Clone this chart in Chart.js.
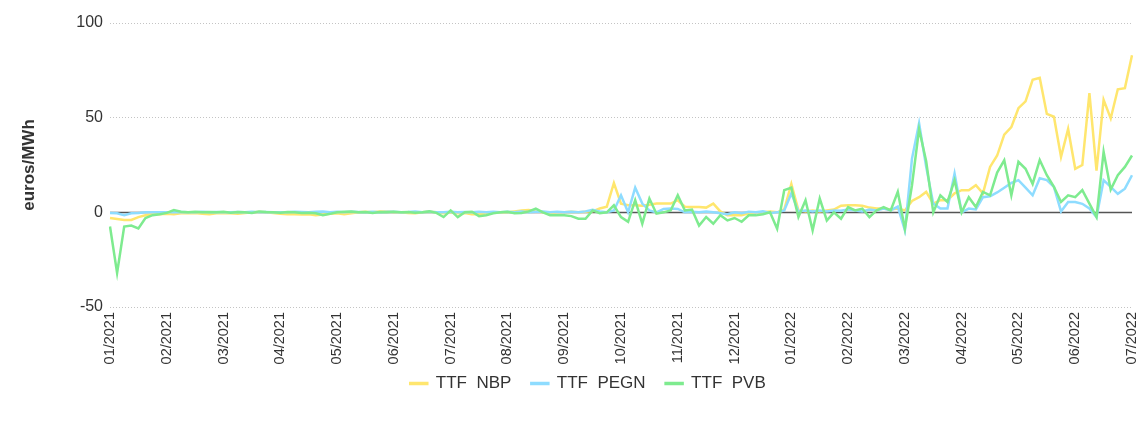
<!DOCTYPE html>
<html>
<head>
<meta charset="utf-8">
<script src="https://cdn.jsdelivr.net/npm/chart.js@4/dist/chart.umd.min.js"></script>
<style>
  html, body { margin: 0; padding: 0; background: #fff; }
  #wrap { width: 1138px; height: 423px; position: relative; }
</style>
</head>
<body>
<div id="wrap"><canvas id="spreadChart"></canvas></div>
<script>
'use strict';

// month tick labels (one every PER_MONTH points)
const MONTHS = ['01/2021', '02/2021', '03/2021', '04/2021', '05/2021', '06/2021', '07/2021', '08/2021', '09/2021',
  '10/2021', '11/2021', '12/2021', '01/2022', '02/2022', '03/2022', '04/2022', '05/2022', '06/2022', '07/2022'];
const PER_MONTH = 8;

// spreads, euros/MWh (8 readings per month, last one = 07/2022)
const TTF_NBP = [
  -3, -3.5, -4, -4, -2.5, -1.5, -1, -1,
  -0.8, -1, -0.5, -0.5, -0.3, -0.8, -1, -0.5,
  -0.3, -0.5, -0.8, -0.3, 0, 0.2, 0, -0.3,
  -0.8, -1, -1, -1.2, -1, -1.5, -1.2, -0.8,
  -0.5, -1, -0.5, 0, 0.3, 0, 0.5, 0.5,
  0.2, 0, -0.3, -0.5, 0, 0.3, 0, -0.5,
  0, -0.5, -0.3, -1, -1, -0.5, 0, -0.2,
  0, 0.5, 1, 1.2, 0.5, 0, -0.5, 0,
  0, 0.3, 0, 0.3, 0.5, 2, 3, 15.5,
  4.6, 3.7, 3.7, 3.5, 4, 4.6, 4.6, 4.6,
  6.4, 3, 2.8, 2.8, 2.5, 4.6, 0.5, -1.6,
  -1.6, -1.5, -0.5, 0, 0, 0.5, 0, 1.5,
  15, 1, 0.5, 1, 0.5, 1, 1.5, 3.5,
  3.7, 3.7, 3.5, 2.5, 2, 2, 1.5, 2,
  1, 6, 8, 10.8, 4.6, 6.4, 6.4, 10,
  11.7, 11.7, 14.3, 10, 24, 30, 41, 45,
  55, 58.6, 70, 71, 52, 50.5, 29.3, 44,
  23, 25, 63, 22, 59.4, 49.6, 65, 65.6,
  83
];
const TTF_PEGN = [
  -0.3, -0.5, -1.5, -0.5, -0.3, 0, 0, 0,
  0, 0, 0.2, 0, 0, 0.3, 0, 0.2,
  0, 0, 0.2, 0, 0.3, 0, 0.2, 0,
  0, 0, 0.3, 0.2, 0, 0.3, 0.5, 0,
  0.3, 0, 0.3, 0.2, 0, 0.3, 0, 0.3,
  0.3, 0, 0.2, 0.5, 0, 0.3, 0, 0,
  0.3, 0, 0.2, 0, 0.3, 0, 0.3, 0,
  0.3, 0, 0.5, 0, 0.3, 0.5, 0, 0.3,
  0, 0.3, 0, 0.5, 1.4, 0.5, 0, 1,
  9, 0, 13, 4.6, 1, 0, 1.8, 2,
  1.8, 0, 0.3, 0, 0.5, 0, -0.5, -1,
  0, -0.5, 0.3, 0, 0.5, -0.3, 0, 1,
  10, 0.5, 1, 0.5, 1, 0.5, 1, 0.8,
  1.5, 1, 0.5, 1.5, 1, 2, 1, 3,
  -9.5, 28.4, 47, 24, 4.6, 2, 2, 20.5,
  0, 2, 1.5, 8, 8.5, 10.5, 13, 15.5,
  17, 13, 9, 18, 17, 13.4, 0.5, 5.5,
  5.5, 4.5, 2, -2.5, 17, 13.4, 9.8, 12.5,
  19.6
];
const TTF_PVB = [
  -7.5, -32, -7.5, -7, -8.5, -3, -1.5, -1,
  -0.3, 1.2, 0.3, 0, 0.3, 0, 0.2, 0,
  0.3, -0.2, 0.2, 0, -0.3, 0.5, 0.2, 0,
  -0.2, 0.2, 0, -0.3, -0.2, -0.5, -1.5, -0.8,
  0, 0.3, 0.5, 0, 0.2, -0.3, 0.2, 0,
  0.3, 0, 0.2, -0.2, 0, 0.5, -0.3, -2.5,
  1, -2.5, 0, 0.3, -2, -1.5, -0.5, 0,
  0.3, -0.5, -0.3, 0.5, 2, 0, -1.5, -1.5,
  -1.6, -2, -3.4, -3.4, 1, -0.5, 0, 3.7,
  -2.5, -5, 6.4, -6, 7.3, -0.7, 0, 1,
  9, 1, 1.5, -7, -2.5, -6, -1.5, -4.3,
  -3, -5, -1.6, -1.6, -1, 0, -8.7, 11.7,
  13, -2.5, 6.4, -9.5, 7.3, -4.3, 0, -3.4,
  2.8, 1, 2, -2.5, 1, 2.8, 1, 10.8,
  -8.7, 14.3, 44, 27, 0, 9, 5.5, 17,
  0, 8, 2.8, 10.8, 9, 21, 27.5, 9,
  26.7, 23, 15, 27.6, 19.6, 13.4, 5.5, 9,
  8, 11.7, 4.6, -2.5, 32, 12, 19.6, 24,
  30
];
const Y_TICKS = [-50, 0, 50, 100];

const FONT = "'Liberation Sans', Arial, sans-serif";

// one category per reading, named after its month
const labels = TTF_NBP.map((_, i) => MONTHS[Math.floor(i / PER_MONTH)]);

// dark line at zero, drawn under the series
const zeroLine = {
  id: 'zeroLine',
  beforeDatasetsDraw(chart) {
    const { ctx, chartArea, scales } = chart;
    const y0 = Math.round(scales.y.getPixelForValue(0)) + 0.5;
    ctx.save();
    ctx.strokeStyle = '#555';
    ctx.lineWidth = 1.5;
    ctx.beginPath();
    ctx.moveTo(chartArea.left, y0);
    ctx.lineTo(chartArea.right, y0);
    ctx.stroke();
    ctx.restore();
  },
};

// nudge the legend block up and right, like the original
const legendNudge = {
  id: 'legendNudge',
  afterLayout(chart) {
    const lg = chart.legend;
    lg.top -= 10; lg.bottom -= 10;
    lg.left += 22; lg.right += 22;
  },
};

function series(label, data, color, order) {
  return {
    label, data, order,
    borderColor: color,
    backgroundColor: color,
    borderWidth: 2.5,
    pointRadius: 0,
    tension: 0,
  };
}

Chart.defaults.font.family = FONT;
Chart.defaults.font.size = 16;
Chart.defaults.color = '#333';

new Chart(document.getElementById('spreadChart').getContext('2d'), {
  type: 'line',
  data: {
    labels,
    datasets: [
      series('TTF  NBP', TTF_NBP, '#ffe66e', 2),
      series('TTF  PEGN', TTF_PEGN, '#8edcff', 1),
      series('TTF  PVB', TTF_PVB, '#7eeb8f', 0),
    ],
  },
  options: {
    responsive: true,
    maintainAspectRatio: false,
    animation: false,
    layout: { padding: { top: 23, right: 6, bottom: 11, left: 0 } },
    plugins: {
      legend: {
        position: 'bottom',
        labels: {
          boxWidth: 17,
          boxHeight: 1,
          padding: 20,
          font: { size: 17 },
          sort: (a, b) => a.datasetIndex - b.datasetIndex,
        },
      },
      tooltip: { enabled: false },
    },
    scales: {
      x: {
        grid: { display: false, drawTicks: false },
        border: { display: false },
        afterFit: s => { s.height = 58; s.paddingLeft = 0; s.paddingRight = 0; },
        ticks: {
          autoSkip: false,
          minRotation: 90,
          maxRotation: 90,
          padding: 5,
          font: { size: 14.5 },
          callback: (v, i) => (i % PER_MONTH === 0 ? labels[i] : ''),
        },
      },
      y: {
        min: -50,
        max: 100,
        afterBuildTicks: s => { s.ticks = Y_TICKS.map(v => ({ value: v })); },
        afterFit: s => { s.width = 110; },
        grid: { color: '#c4c4c4', lineWidth: 1, drawTicks: false },
        border: { display: false, dash: [1, 2] },
        ticks: { padding: 7, font: { size: 16 } },
        title: {
          display: true,
          text: 'euros/MWh',
          font: { size: 17, weight: 'bold' },
          padding: { top: 19, bottom: 0 },
        },
      },
    },
  },
  plugins: [zeroLine, legendNudge],
});
</script>
</body>
</html>
